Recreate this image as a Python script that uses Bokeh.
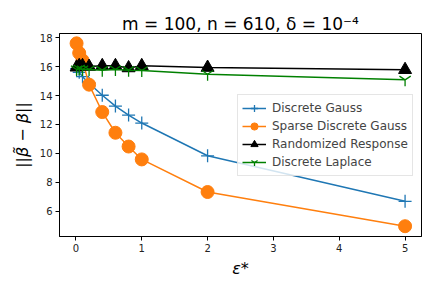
from bokeh.plotting import figure
from bokeh.models import Legend, LegendItem, FixedTicker, Range1d
from bokeh.embed import file_html
from bokeh.resources import INLINE

eps = [0.01, 0.05, 0.1, 0.2, 0.4, 0.6, 0.8, 1.0, 2.0, 5.0]
discrete_gauss = [15.85, 15.6, 15.3, 14.85, 14.02, 13.27, 12.65, 12.1, 9.84, 6.70]
sparse_discrete_gauss = [17.6, 16.93, 16.43, 14.75, 12.86, 11.43, 10.48, 9.59, 7.34, 4.98]
randomized_response = [15.95, 16.05, 16.05, 16.0, 16.05, 16.05, 15.9, 16.05, 15.93, 15.78]
discrete_laplace = [15.8, 15.85, 15.8, 15.8, 15.75, 15.8, 15.75, 15.73, 15.47, 15.08]

x_ticks = [0, 1, 2, 3, 4, 5]
y_ticks = [6, 8, 10, 12, 14, 16, 18]

title = "m = 100, n = 610, δ = 10⁻⁴"
x_label = "ε*"
y_label = "||β̃ − β||"

p = figure(width=424, height=280, output_backend="svg", toolbar_location=None,
           x_range=Range1d(-0.2495, 5.2495), y_range=Range1d(4.27, 18.28),
           min_border_left=59, min_border_right=3, min_border_top=33, min_border_bottom=42)
p.background_fill_color = "white"
p.border_fill_color = "white"
p.outline_line_color = "black"
p.outline_line_width = 1
p.grid.visible = False

p.title.text = title
p.title.align = "center"
p.title.text_font = "DejaVu Sans"
p.title.text_font_size = "17px"
p.title.text_font_style = "normal"
p.title.text_color = "black"
p.title.standoff = 0
p.title.offset = 0

for ax in (p.xaxis[0], p.yaxis[0]):
    ax.major_label_text_font = "DejaVu Sans"
    ax.major_label_text_font_size = "10px"
    ax.major_label_text_color = "#222222"
    ax.axis_line_color = "black"
    ax.major_tick_line_color = "black"
    ax.major_tick_out = 4
    ax.major_tick_in = 0
    ax.minor_tick_line_color = None
    ax.axis_label_text_font = "DejaVu Sans"
    ax.axis_label_text_font_size = "16px"
    ax.axis_label_text_font_style = "italic"
    ax.axis_label_text_color = "black"
    ax.major_label_standoff = 3

p.xaxis.ticker = FixedTicker(ticks=x_ticks)
p.yaxis.ticker = FixedTicker(ticks=y_ticks)
p.xaxis.axis_label = x_label
p.yaxis.axis_label = y_label
p.xaxis.axis_label_standoff = 4
p.yaxis.axis_label_standoff = 5

series = [
    ("Discrete Gauss", discrete_gauss, "#1f77b4", "cross", 13),
    ("Sparse Discrete Gauss", sparse_discrete_gauss, "#ff7f0e", "circle", 13),
    ("Randomized Response", randomized_response, "black", "triangle", 13),
    ("Discrete Laplace", discrete_laplace, "green", "y", 13),
]

items = []
for name, vals, col, mk, sz in series:
    l = p.line(eps, vals, line_color=col, line_width=1.5)
    if mk in ("cross", "y"):
        s = p.scatter(eps, vals, marker=mk, size=sz, line_color=col, line_width=1.3, fill_color=col)
    else:
        s = p.scatter(eps, vals, marker=mk, size=sz, line_color=col, fill_color=col)
    items.append(LegendItem(label=name, renderers=[l, s]))

legend = Legend(items=items, location=(178, 60))
legend.label_text_font = "DejaVu Sans"
legend.label_text_font_size = "12px"
legend.glyph_width = 24
legend.glyph_height = 18
legend.label_height = 18
legend.spacing = 0
legend.padding = 4
legend.margin = 0
legend.label_standoff = 6
legend.border_line_color = "#cccccc"
legend.border_line_width = 1
legend.background_fill_alpha = 0.8
p.add_layout(legend, "center")

open("out.html", "w").write(file_html(p, INLINE))
